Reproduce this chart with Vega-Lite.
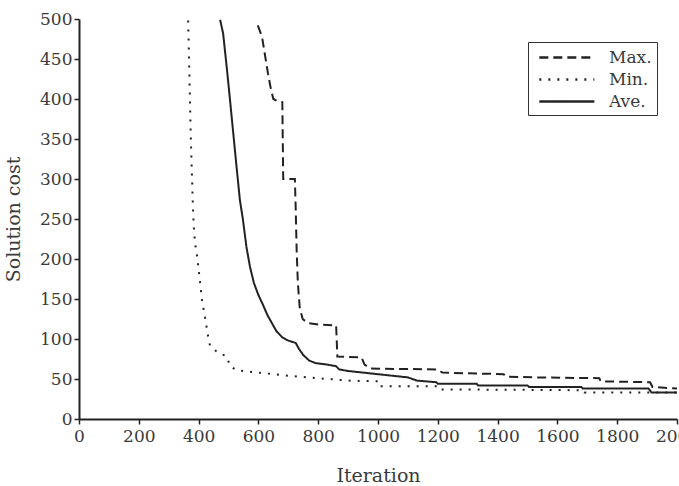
{
  "$schema": "https://vega.github.io/schema/vega-lite/v6.json",
  "width": 598,
  "height": 400,
  "autosize": {"type": "none"},
  "padding": {"left": 79, "top": 19, "right": 2, "bottom": 67},
  "background": "white",
  "config": {
    "view": {"stroke": null},
    "font": "DejaVu Serif",
    "axis": {
      "grid": false,
      "domainColor": "#222",
      "domainWidth": 2,
      "tickColor": "#222",
      "tickWidth": 1.5,
      "tickSize": 5,
      "labelFont": "DejaVu Serif",
      "labelFontSize": 17,
      "labelColor": "#3a3a3a",
      "titleFont": "DejaVu Serif",
      "titleFontSize": 19,
      "titleFontWeight": "normal",
      "titleColor": "#3a3a3a"
    },
    "legend": {
      "labelFont": "DejaVu Serif",
      "labelFontSize": 17,
      "labelColor": "#3a3a3a"
    }
  },
  "data": {
    "values": [
      {"s": "Max.", "x": 598, "y": 492},
      {"s": "Max.", "x": 612, "y": 478},
      {"s": "Max.", "x": 622, "y": 455},
      {"s": "Max.", "x": 632, "y": 432},
      {"s": "Max.", "x": 642, "y": 412},
      {"s": "Max.", "x": 650, "y": 400},
      {"s": "Max.", "x": 665, "y": 397},
      {"s": "Max.", "x": 680, "y": 396},
      {"s": "Max.", "x": 683, "y": 300},
      {"s": "Max.", "x": 722, "y": 300},
      {"s": "Max.", "x": 725, "y": 260},
      {"s": "Max.", "x": 728, "y": 210},
      {"s": "Max.", "x": 732, "y": 170},
      {"s": "Max.", "x": 738, "y": 140},
      {"s": "Max.", "x": 748, "y": 125},
      {"s": "Max.", "x": 765, "y": 120},
      {"s": "Max.", "x": 800, "y": 118},
      {"s": "Max.", "x": 860, "y": 117},
      {"s": "Max.", "x": 864, "y": 78},
      {"s": "Max.", "x": 945, "y": 77},
      {"s": "Max.", "x": 955, "y": 68},
      {"s": "Max.", "x": 975, "y": 63},
      {"s": "Max.", "x": 1200, "y": 62},
      {"s": "Max.", "x": 1215, "y": 58},
      {"s": "Max.", "x": 1420, "y": 56},
      {"s": "Max.", "x": 1430, "y": 53},
      {"s": "Max.", "x": 1530, "y": 52},
      {"s": "Max.", "x": 1740, "y": 51},
      {"s": "Max.", "x": 1745, "y": 47},
      {"s": "Max.", "x": 1910, "y": 46},
      {"s": "Max.", "x": 1918, "y": 40},
      {"s": "Max.", "x": 2000, "y": 38},

      {"s": "Min.", "x": 365, "y": 498},
      {"s": "Min.", "x": 368, "y": 450},
      {"s": "Min.", "x": 371, "y": 400},
      {"s": "Min.", "x": 374, "y": 350},
      {"s": "Min.", "x": 377, "y": 315},
      {"s": "Min.", "x": 381, "y": 265},
      {"s": "Min.", "x": 384, "y": 240},
      {"s": "Min.", "x": 388, "y": 220},
      {"s": "Min.", "x": 394, "y": 207},
      {"s": "Min.", "x": 405, "y": 171},
      {"s": "Min.", "x": 411, "y": 149},
      {"s": "Min.", "x": 421, "y": 128},
      {"s": "Min.", "x": 432, "y": 103},
      {"s": "Min.", "x": 438, "y": 92},
      {"s": "Min.", "x": 461, "y": 84},
      {"s": "Min.", "x": 495, "y": 78},
      {"s": "Min.", "x": 505, "y": 66},
      {"s": "Min.", "x": 528, "y": 61},
      {"s": "Min.", "x": 600, "y": 58},
      {"s": "Min.", "x": 700, "y": 54},
      {"s": "Min.", "x": 800, "y": 51},
      {"s": "Min.", "x": 900, "y": 48},
      {"s": "Min.", "x": 1005, "y": 47},
      {"s": "Min.", "x": 1008, "y": 41},
      {"s": "Min.", "x": 1205, "y": 41},
      {"s": "Min.", "x": 1210, "y": 37},
      {"s": "Min.", "x": 1685, "y": 36},
      {"s": "Min.", "x": 1690, "y": 33},
      {"s": "Min.", "x": 2000, "y": 33},

      {"s": "Ave.", "x": 472, "y": 499},
      {"s": "Ave.", "x": 482, "y": 482},
      {"s": "Ave.", "x": 494, "y": 440},
      {"s": "Ave.", "x": 505, "y": 399},
      {"s": "Ave.", "x": 516, "y": 357},
      {"s": "Ave.", "x": 527, "y": 315},
      {"s": "Ave.", "x": 538, "y": 274},
      {"s": "Ave.", "x": 548, "y": 250},
      {"s": "Ave.", "x": 560, "y": 215},
      {"s": "Ave.", "x": 572, "y": 190},
      {"s": "Ave.", "x": 585, "y": 170},
      {"s": "Ave.", "x": 600, "y": 155},
      {"s": "Ave.", "x": 615, "y": 143},
      {"s": "Ave.", "x": 630, "y": 130},
      {"s": "Ave.", "x": 645, "y": 120},
      {"s": "Ave.", "x": 660, "y": 110},
      {"s": "Ave.", "x": 680, "y": 102},
      {"s": "Ave.", "x": 700, "y": 98},
      {"s": "Ave.", "x": 725, "y": 95},
      {"s": "Ave.", "x": 735, "y": 88},
      {"s": "Ave.", "x": 750, "y": 80},
      {"s": "Ave.", "x": 770, "y": 73},
      {"s": "Ave.", "x": 790, "y": 70},
      {"s": "Ave.", "x": 830, "y": 68},
      {"s": "Ave.", "x": 860, "y": 66},
      {"s": "Ave.", "x": 870, "y": 62},
      {"s": "Ave.", "x": 900, "y": 60},
      {"s": "Ave.", "x": 950, "y": 58},
      {"s": "Ave.", "x": 1000, "y": 56},
      {"s": "Ave.", "x": 1100, "y": 52},
      {"s": "Ave.", "x": 1130, "y": 48},
      {"s": "Ave.", "x": 1195, "y": 46},
      {"s": "Ave.", "x": 1200, "y": 44},
      {"s": "Ave.", "x": 1330, "y": 44},
      {"s": "Ave.", "x": 1335, "y": 42},
      {"s": "Ave.", "x": 1500, "y": 42},
      {"s": "Ave.", "x": 1505, "y": 40},
      {"s": "Ave.", "x": 1680, "y": 40},
      {"s": "Ave.", "x": 1685, "y": 38},
      {"s": "Ave.", "x": 1905, "y": 38},
      {"s": "Ave.", "x": 1915, "y": 33},
      {"s": "Ave.", "x": 2000, "y": 33}
    ]
  },
  "mark": {"type": "line", "color": "#222", "strokeWidth": 2},
  "encoding": {
    "x": {
      "field": "x",
      "type": "quantitative",
      "scale": {"domain": [0, 2000], "nice": false},
      "axis": {"values": [0, 200, 400, 600, 800, 1000, 1200, 1400, 1600, 1800, 2000], "format": "d", "title": "Iteration", "labelPadding": 4, "titlePadding": 22, "labelFlush": false}
    },
    "y": {
      "field": "y",
      "type": "quantitative",
      "scale": {"domain": [0, 500], "nice": false},
      "axis": {"values": [0, 50, 100, 150, 200, 250, 300, 350, 400, 450, 500], "format": "d", "title": "Solution cost", "labelPadding": 2, "titlePadding": 16}
    },
    "strokeDash": {
      "field": "s",
      "type": "nominal",
      "sort": ["Max.", "Min.", "Ave."],
      "scale": {"domain": ["Max.", "Min.", "Ave."], "range": [[9, 5], [2, 7], [1, 0]]},
      "legend": {
        "title": null,
        "orient": "none",
        "legendX": 449,
        "legendY": 23,
        "symbolType": "M-1,0H5",
        "symbolSize": 336,
        "symbolStrokeWidth": 2.5,
        "symbolStrokeColor": "#222",
        "symbolOffset": 5,
        "labelOffset": 50,
        "padding": 5,
        "rowPadding": 3,
        "strokeColor": "#333",
        "fillColor": "white"
      }
    },
    "detail": {"field": "s"}
  }
}
